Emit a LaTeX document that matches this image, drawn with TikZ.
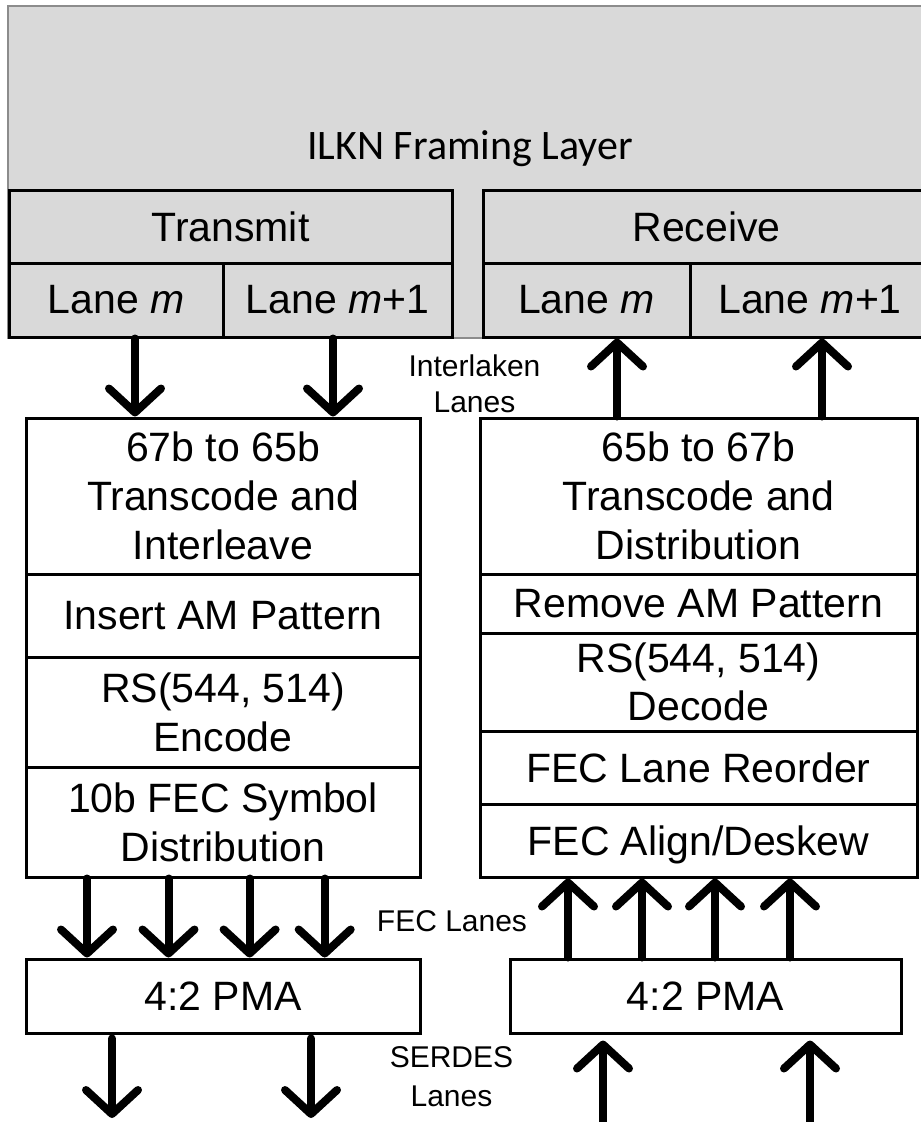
\documentclass[tikz,border=0pt]{standalone}
\usepackage{fontspec}
\setmainfont{Liberation Sans}
\newfontfamily\calibri{Carlito}
\usetikzlibrary{arrows.meta}
\definecolor{framegray}{HTML}{D9D9D9}
\definecolor{edgegray}{HTML}{8C8C8C}
\tikzset{
  blk/.style={draw=black, line width=3pt, inner sep=0pt, align=center,
    font=\fontsize{41}{49}\selectfont},
  gblk/.style={blk, fill=framegray},
  lbl/.style={inner sep=0pt, align=center, font=\fontsize{30}{36}\selectfont},
  arr/.style={line width=8pt, line cap=round,
    -{Straight Barb[length=24pt,width=52pt,round]}},
}
\begin{document}
\begin{tikzpicture}[x=1pt,y=-1pt]
\useasboundingbox (0,0) rectangle (921,1122);
% framing layer
\node[draw=edgegray, line width=1.5pt, fill=framegray, minimum width=922pt, minimum height=332pt, inner sep=0pt] (frame) at (469,172) {};
\node[anchor=base, inner sep=0pt, font=\calibri\fontsize{42}{50}\selectfont] (ilkn) at (470,159) {ILKN Framing Layer};
% transmit / receive
\node[gblk, minimum width=443pt, minimum height=73pt] (tx) at (230.5,226.5) {Transmit};
\node[gblk, minimum width=214pt, minimum height=74pt] (txm) at (116,300) {Lane \textit{m}};
\node[gblk, minimum width=229pt, minimum height=74pt] (txn) at (337.5,300) {Lane \textit{m}+1};
\node[gblk, minimum width=447pt, minimum height=73pt] (rx) at (706.5,226.5) {Receive};
\node[gblk, minimum width=207pt, minimum height=74pt] (rxm) at (586.5,300) {Lane \textit{m}};
\node[gblk, minimum width=240pt, minimum height=74pt] (rxn) at (810,300) {Lane \textit{m}+1};
% left stack
\node[blk, minimum width=394pt, minimum height=156pt] (t1) at (223,496) {67b to 65b\\Transcode and\\Interleave};
\node[blk, minimum width=394pt, minimum height=83pt] (t2) at (223,615.5) {Insert AM Pattern};
\node[blk, minimum width=394pt, minimum height=110pt] (t3) at (223,712) {RS(544, 514)\\Encode};
\node[blk, minimum width=394pt, minimum height=110pt] (t4) at (223,822) {10b FEC Symbol\\Distribution};
% right stack
\node[blk, minimum width=437pt, minimum height=156pt] (r1) at (698.5,496) {65b to 67b\\Transcode and\\Distribution};
\node[blk, minimum width=437pt, minimum height=59pt] (r2) at (698.5,603.5) {Remove AM Pattern};
\node[blk, minimum width=437pt, minimum height=98pt, font=\fontsize{41}{48}\selectfont] (r3) at (698.5,682) {RS(544, 514)\\Decode};
\node[blk, minimum width=437pt, minimum height=73pt] (r4) at (698.5,767.5) {FEC Lane Reorder};
\node[blk, minimum width=437pt, minimum height=73pt, text depth=0pt] (r5) at (698.5,840.5) {FEC Align/Deskew};
% PMA
\node[blk, minimum width=394pt, minimum height=74pt] (pl) at (223,996) {4:2 PMA};
\node[blk, minimum width=391pt, minimum height=74pt] (pr) at (705.5,996) {4:2 PMA};
% labels
\node[lbl] (il) at (474.5,384) {Interlaken\\Lanes};
\node[lbl] (fl) at (452,921) {FEC Lanes};
\node[lbl, font=\fontsize{30}{39}\selectfont] (sl) at (451.5,1077) {SERDES\\Lanes};
% x positions
\foreach \n/\x in {a1/135,a2/333,b1/617,b2/822,c1/87,c2/168.5,c3/249.6,c4/324.7,d1/568,d2/642,d3/715,d4/790,e1/112,e2/311,f1/603,f2/810}
  \coordinate (\n) at (\x,0);
\coordinate (bot) at (0,1118);
\coordinate (below) at (0,1130);
% arrows
\draw[arr] (txm.south -| a1) -- (t1.north -| a1);
\draw[arr] (txn.south -| a2) -- (t1.north -| a2);
\draw[arr] (r1.north -| b1) -- (rxm.south -| b1);
\draw[arr] (r1.north -| b2) -- (rxn.south -| b2);
\foreach \c in {c1,c2,c3,c4}
  \draw[arr] (t4.south -| \c) -- (pl.north -| \c);
\foreach \c in {d1,d2,d3,d4}
  \draw[arr] (pr.north -| \c) -- (r5.south -| \c);
\foreach \c in {e1,e2}
  \draw[arr] (pl.south -| \c) ++(0,4) -- (bot -| \c);
\foreach \c in {f1,f2}
  \draw[arr, shorten >=6pt] (below -| \c) -- (pr.south -| \c);
\end{tikzpicture}
\end{document}
